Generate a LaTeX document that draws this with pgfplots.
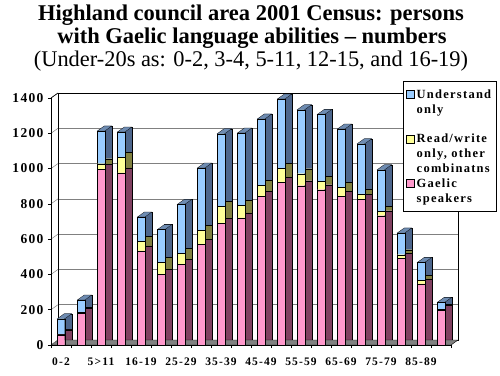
\documentclass[border=0pt]{standalone}
\usepackage{fontspec}
\setmainfont{Liberation Serif}
\newfontfamily\spaced[LetterSpace=10]{Liberation Serif}
\usepackage{pgfplots}
\pgfplotsset{compat=1.18}
\usepackage{pgfplotstable}

\definecolor{bluef}{RGB}{153,204,255}
\definecolor{blues}{RGB}{77,102,140}
\definecolor{bluet}{RGB}{110,140,178}
\definecolor{yelf}{RGB}{255,255,153}
\definecolor{yels}{RGB}{128,128,64}
\definecolor{pinkf}{RGB}{255,153,204}
\definecolor{pinks}{RGB}{128,64,96}

\pgfdeclareplotmark{topface}{%
  \pgfpathmoveto{\pgfqpoint{-3.75pt}{0pt}}%
  \pgfpathlineto{\pgfqpoint{3.75pt}{0pt}}%
  \pgfpathlineto{\pgfqpoint{10.75pt}{5pt}}%
  \pgfpathlineto{\pgfqpoint{3.25pt}{5pt}}%
  \pgfpathclose
  \pgfusepathqfillstroke}

\pgfplotstableread{
x G RW U
0 58 2 89
1 181 3 71
2 997 31 185
3 975 90 142
4 533 54 138
5 402 66 186
6 459 59 279
7 569 81 353
8 691 95 412
9 720 71 410
10 842 63 376
11 922 81 391
12 903 68 363
13 880 47 380
14 844 50 330
15 827 29 285
16 733 24 237
17 491 21 123
18 346 19 103
19 198 4 40
}\census

\pgfplotsset{
  common/.style={
    width=400pt, height=247pt, scale only axis,
    xmin=-0.5, xmax=19.5, ymin=0, ymax=1400,
  },
}

\begin{document}
\begin{tikzpicture}
\useasboundingbox (0pt,0pt) rectangle (500pt,375pt);
\node[anchor=base, font=\bfseries\fontsize{22.5}{24}\selectfont, inner sep=0pt] at (251pt,354pt) {Highland council area 2001 Census: persons};
\node[anchor=base, font=\bfseries\fontsize{22.5}{24}\selectfont, inner sep=0pt] at (252pt,331pt) {with Gaelic language abilities – numbers};
\node[anchor=base, font=\fontsize{22.4}{24}\selectfont, inner sep=0pt] at (251pt,308pt) {(Under-20s as: 0-2, 3-4, 5-11, 12-15, and 16-19)};

% back wall and side faces of bars
\begin{axis}[common, ybar stacked, bar width=7.5pt, at={(58pt,35pt)}, anchor=south west,
  ytick={0,200,...,1400}, yticklabels={}, xtick=\empty,
  ymajorgrids, grid style={gray, line width=0.5pt},
  major tick length=0pt,
  axis line style={black, line width=0.6pt},
]
\addplot[fill=pinks, draw=black, line width=0.25pt] table[x=x, y=G] {\census};
\addplot[fill=yels, draw=black, line width=0.25pt] table[x=x, y=RW] {\census};
\addplot[fill=blues, draw=black, line width=0.25pt] table[x=x, y=U] {\census};
\end{axis}

% floor and left wall
\fill[gray, draw=black, line width=0.4pt] (51pt,30pt)--(451pt,30pt)--(458pt,35pt)--(58pt,35pt)--cycle;
\foreach \v in {0,200,...,1400}
  \draw[gray, line width=0.5pt] (51pt,{30pt+0.176429pt*\v}) -- (58pt,{35pt+0.176429pt*\v});
\draw[black, line width=0.6pt] (51pt,277pt) -- (58pt,282pt);

% top faces of the bars
\begin{axis}[common, at={(51pt,30pt)}, anchor=south west, axis lines=none, clip=false]
\addplot[only marks, mark=topface, mark options={fill=bluet, draw=black, line width=0.25pt}]
  table[x=x, y expr=\thisrow{G}+\thisrow{RW}+\thisrow{U}] {\census};
\end{axis}

% front faces
\begin{axis}[common, ybar stacked, bar width=7.5pt, at={(51pt,30pt)}, anchor=south west,
  axis x line*=bottom, axis y line*=left,
  axis line style={black, line width=0.6pt, -},
  ytick={0,200,...,1400},
  xtick={0,2,...,18},
  xticklabels={0-2,5>11,16-19,25-29,35-39,45-49,55-59,65-69,75-79,85-89},
  minor xtick={-0.5,0.5,...,19.5},
  tick align=outside, major tick length=3pt, minor tick length=3pt,
  major x tick style={draw=none},
  tick style={black, line width=0.5pt},
  /pgf/number format/assume math mode=true,
  /pgf/number format/1000 sep={},
  yticklabel style={font=\spaced\bfseries\fontsize{13.5}{15}\selectfont, xshift=-1pt},
  xticklabel style={font=\spaced\bfseries\fontsize{11.5}{13}\selectfont, yshift=-6.5pt},
  reverse legend,
  legend style={at={(0.88,1.069)}, anchor=north west, draw=black, fill=white,
    line width=0.6pt,
    font=\spaced\bfseries\fontsize{12.5}{15}\selectfont,
    cells={anchor=north west, align=left}, row sep=0pt,
    inner xsep=3pt, inner ysep=6pt},
  legend image code/.code={\draw[#1, draw=black, line width=0.4pt] (0pt,-11pt) rectangle (8pt,-3pt);},
]
\addplot[fill=pinkf, draw=black, line width=0.25pt] table[x=x, y=G] {\census};
\addlegendentry{Gaelic\\speakers}
\addplot[fill=yelf, draw=black, line width=0.25pt] table[x=x, y=RW] {\census};
\addlegendentry{Read/write\\only, other\\combinatns}
\addplot[fill=bluef, draw=black, line width=0.25pt] table[x=x, y=U] {\census};
\addlegendentry{Understand\\only\\{}}
\end{axis}
\end{tikzpicture}
\end{document}
